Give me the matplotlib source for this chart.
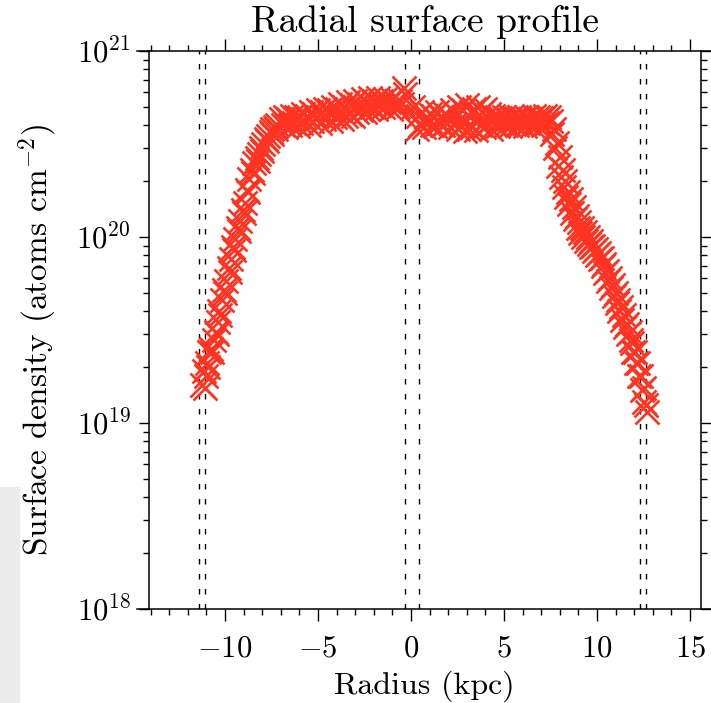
import matplotlib
matplotlib.use('Agg')
import matplotlib.pyplot as plt
from matplotlib.lines import Line2D
from matplotlib.patches import Rectangle
from matplotlib.ticker import MultipleLocator, LogLocator, NullFormatter

plt.rcParams['font.family'] = 'serif'
plt.rcParams['font.serif'] = ['cmr10']
plt.rcParams['mathtext.fontset'] = 'cm'
plt.rcParams['axes.formatter.use_mathtext'] = True

# surface density in units of 1e20 atoms cm^-2, two overlapping strands
radius_a = [-11.25, -11.15, -11.05, -10.95, -10.85, -10.75, -10.6, -10.5, -10.4, -10.3,
            -10.15, -10.05, -9.95, -9.8, -9.7, -9.55, -9.45, -9.3, -9.2, -9.05,
            -8.95, -8.8, -8.7, -8.55, -8.45, -8.3, -8.2, -8.05, -7.95, -7.8,
            -7.7, -7.55, -7.45, -7.3, -7.2,
            -7.0, -6.8, -6.6, -6.4, -6.2, -6.0, -5.8, -5.6, -5.4, -5.2,
            -5.0, -4.8, -4.6, -4.4, -4.2, -4.0, -3.8, -3.6, -3.4, -3.2,
            -3.0, -2.8, -2.6, -2.4, -2.2, -2.0, -1.8, -1.6, -1.4, -1.2,
            -1.0, -0.8, -0.6,
            0.4, 0.6, 0.8, 1.0, 1.2, 1.4, 1.6, 1.8, 2.0, 2.2,
            2.4, 2.6, 2.8, 3.0, 3.2, 3.4, 3.6, 3.8, 4.0, 4.2,
            4.4, 4.6, 4.8, 5.0, 5.2, 5.4, 5.6, 5.8, 6.0, 6.2,
            6.4, 6.6, 6.8, 7.0, 7.2, 7.4,
            7.6, 7.75, 7.9, 8.05, 8.2, 8.35, 8.5, 8.65, 8.8, 8.95,
            9.1, 9.25, 9.4, 9.55, 9.7, 9.85, 10.0, 10.15, 10.3, 10.45,
            10.6, 10.75, 10.9, 11.05, 11.2, 11.35, 11.5, 11.65, 11.8, 11.95,
            12.1, 12.25, 12.4, 12.55, 12.7]
density_a = [0.16, 0.19, 0.18, 0.21, 0.24, 0.25, 0.28, 0.31, 0.35, 0.40,
             0.46, 0.52, 0.58, 0.68, 0.76, 0.88, 0.98, 1.12, 1.22, 1.40,
             1.52, 1.80, 2.05, 2.3, 2.5, 2.65, 2.8, 3.0, 3.15, 3.35,
             3.5, 3.65, 3.8, 3.9, 4.0,
             4.3, 4.4, 4.3, 4.5, 4.4, 4.4, 4.6, 4.5, 4.7, 4.6,
             4.8, 4.7, 4.9, 4.8, 5.0, 4.9, 5.2, 5.0, 5.3, 5.1,
             5.4, 5.2, 5.5, 5.3, 5.6, 5.4, 5.6, 5.4, 5.5, 5.3,
             5.5, 5.3, 5.4,
             4.5, 4.7, 4.4, 4.6, 4.5, 4.7, 4.4, 4.6, 4.5, 4.8,
             4.6, 5.0, 4.8, 5.1, 4.7, 4.9, 5.0, 4.7, 4.9, 4.6,
             4.5, 4.4, 4.35, 4.4, 4.3, 4.4, 4.35, 4.4, 4.3, 4.4,
             4.3, 4.45, 4.4, 4.35, 4.5, 4.4,
             3.6, 3.0, 2.4, 2.1, 1.85, 1.65, 1.5, 1.35, 1.25, 1.12,
             1.05, 1.0, 0.95, 0.92, 0.88, 0.84, 0.80, 0.76, 0.70, 0.64,
             0.58, 0.53, 0.48, 0.44, 0.40, 0.36, 0.33, 0.30, 0.28, 0.24,
             0.21, 0.18, 0.15, 0.13, 0.115]

radius_b = [-11.1, -10.9, -10.7, -10.45, -10.25, -10.0, -9.75, -9.5, -9.25, -9.0,
            -8.75, -8.5, -8.25, -8.0, -7.75, -7.5, -7.25,
            -6.9, -6.7, -6.5, -6.3, -6.1, -5.9, -5.7, -5.5, -5.3, -5.1,
            -4.9, -4.7, -4.5, -4.3, -4.1, -3.9, -3.7, -3.5, -3.3, -3.1,
            -2.9, -2.7, -2.5, -2.3, -2.1, -1.9, -1.7, -1.5, -1.3, -1.1,
            -0.9, -0.7, -0.5,
            0.5, 0.7, 0.9, 1.1, 1.3, 1.5, 1.7, 1.9, 2.1, 2.3,
            2.5, 2.7, 2.9, 3.1, 3.3, 3.5, 3.7, 3.9, 4.1, 4.3,
            4.5, 4.7, 4.9, 5.1, 5.3, 5.5, 5.7, 5.9, 6.1, 6.3,
            6.5, 6.7, 6.9, 7.1, 7.3, 7.5,
            7.7, 7.85, 8.0, 8.15, 8.3, 8.45, 8.6, 8.75, 8.9, 9.05,
            9.2, 9.35, 9.5, 9.65, 9.8, 9.95, 10.1, 10.25, 10.4, 10.55,
            10.7, 10.85, 11.0, 11.15, 11.3, 11.45, 11.6, 11.75, 11.9, 12.05,
            12.2, 12.35, 12.5, 12.65]
density_b = [0.155, 0.20, 0.24, 0.30, 0.38, 0.50, 0.65, 0.85, 1.08, 1.35,
             1.75, 2.2, 2.55, 2.9, 3.3, 3.6, 3.8,
             4.0, 3.9, 4.0, 4.1, 3.95, 4.1, 4.2, 4.0, 4.2, 4.3,
             4.1, 4.3, 4.4, 4.2, 4.4, 4.5, 4.3, 4.5, 4.6, 4.5,
             4.7, 4.8, 4.7, 4.9, 5.0, 4.9, 5.1, 5.0, 5.1, 4.9,
             5.1, 5.0, 5.2,
             4.0, 3.9, 4.1, 4.0, 3.95, 4.1, 4.0, 4.1, 3.9, 4.0,
             3.8, 4.0, 3.7, 3.8, 3.9, 3.75, 4.0, 3.9, 4.0, 3.8,
             4.0, 3.95, 4.1, 4.0, 3.95, 4.1, 4.0, 4.05, 3.95, 4.1,
             4.0, 4.05, 4.1, 4.0, 4.1, 4.2,
             3.8, 3.2, 2.7, 2.3, 2.0, 1.75, 1.6, 1.45, 1.3, 1.2,
             1.12, 1.06, 1.0, 0.95, 0.90, 0.86, 0.82, 0.77, 0.72, 0.66,
             0.60, 0.55, 0.50, 0.46, 0.42, 0.38, 0.34, 0.31, 0.27, 0.24,
             0.21, 0.18, 0.155, 0.125]

# points near the centre
radius_c = [-0.4, -0.3, 0.1, 0.3]
density_c = [6.3, 5.9, 5.0, 3.8]

# vertical boundary markers (kpc)
boundaries = [-11.40, -11.06, -0.30, 0.45, 12.31, 12.63]

W, H = 711, 703
fig = plt.figure(figsize=(W / 100, H / 100), dpi=100)
ax = fig.add_axes([149 / W, 94 / H, 552 / W, 558 / H])
ax.set_yscale('log')
ax.set_xlim(-14.09, 15.59)
ax.set_ylim(1e18, 1e21)

red = '#ff3322'
for xs, ys in [(radius_a, density_a), (radius_b, density_b), (radius_c, density_c)]:
    ax.plot(xs, [v * 1e20 for v in ys], linestyle='none', marker='x',
            ms=17, mew=1.9, color=red, zorder=3)

for b in boundaries:
    ax.axvline(b, color='black', lw=1.0, dashes=(4.0, 6.8), zorder=2)

ax.xaxis.set_major_locator(MultipleLocator(5))
ax.xaxis.set_minor_locator(MultipleLocator(1))
ax.yaxis.set_major_locator(LogLocator(base=10))
ax.yaxis.set_minor_locator(LogLocator(base=10, subs=range(2, 10)))
ax.yaxis.set_minor_formatter(NullFormatter())

ax.tick_params(axis='x', which='both', direction='out', top=True, bottom=True,
               width=1.0, labelsize=22, pad=10)
ax.tick_params(axis='x', which='major', length=8.5)
ax.tick_params(axis='x', which='minor', length=4)
ax.tick_params(axis='y', which='both', direction='out', left=True, right=True,
               width=1.0, labelsize=22, pad=6)
ax.tick_params(axis='y', which='major', length=7)
ax.tick_params(axis='y', which='minor', length=4.5)

for s in ['top', 'bottom']:
    ax.spines[s].set_visible(False)
for s in ['left', 'right']:
    ax.spines[s].set_linewidth(1.1)

# horizontal axis lines run past the box on both sides
x0, x1 = (137 - 149) / 552, (711 - 149) / 552
for yy in (0, 1):
    ax.add_line(Line2D([x0, x1], [yy, yy], transform=ax.transAxes, color='black',
                       lw=1.1, clip_on=False))

fig.text(425 / W, 1 - 22 / H, 'Radial surface profile', ha='center', va='center',
         fontsize=27)
fig.text(424 / W, 1 - 686 / H, 'Radius (kpc)', ha='center', va='center', fontsize=23)
fig.text(38 / W, 1 - 340 / H, 'Surface density (atoms cm$^{-2}$)', ha='center',
         va='center', rotation=90, fontsize=24)

# light grey scrap in the lower-left corner
fig.add_artist(Rectangle((0, 0), 19 / W, 216 / H, transform=fig.transFigure,
                         color='#ececec', zorder=0))

fig.savefig('out.png', dpi=100)
